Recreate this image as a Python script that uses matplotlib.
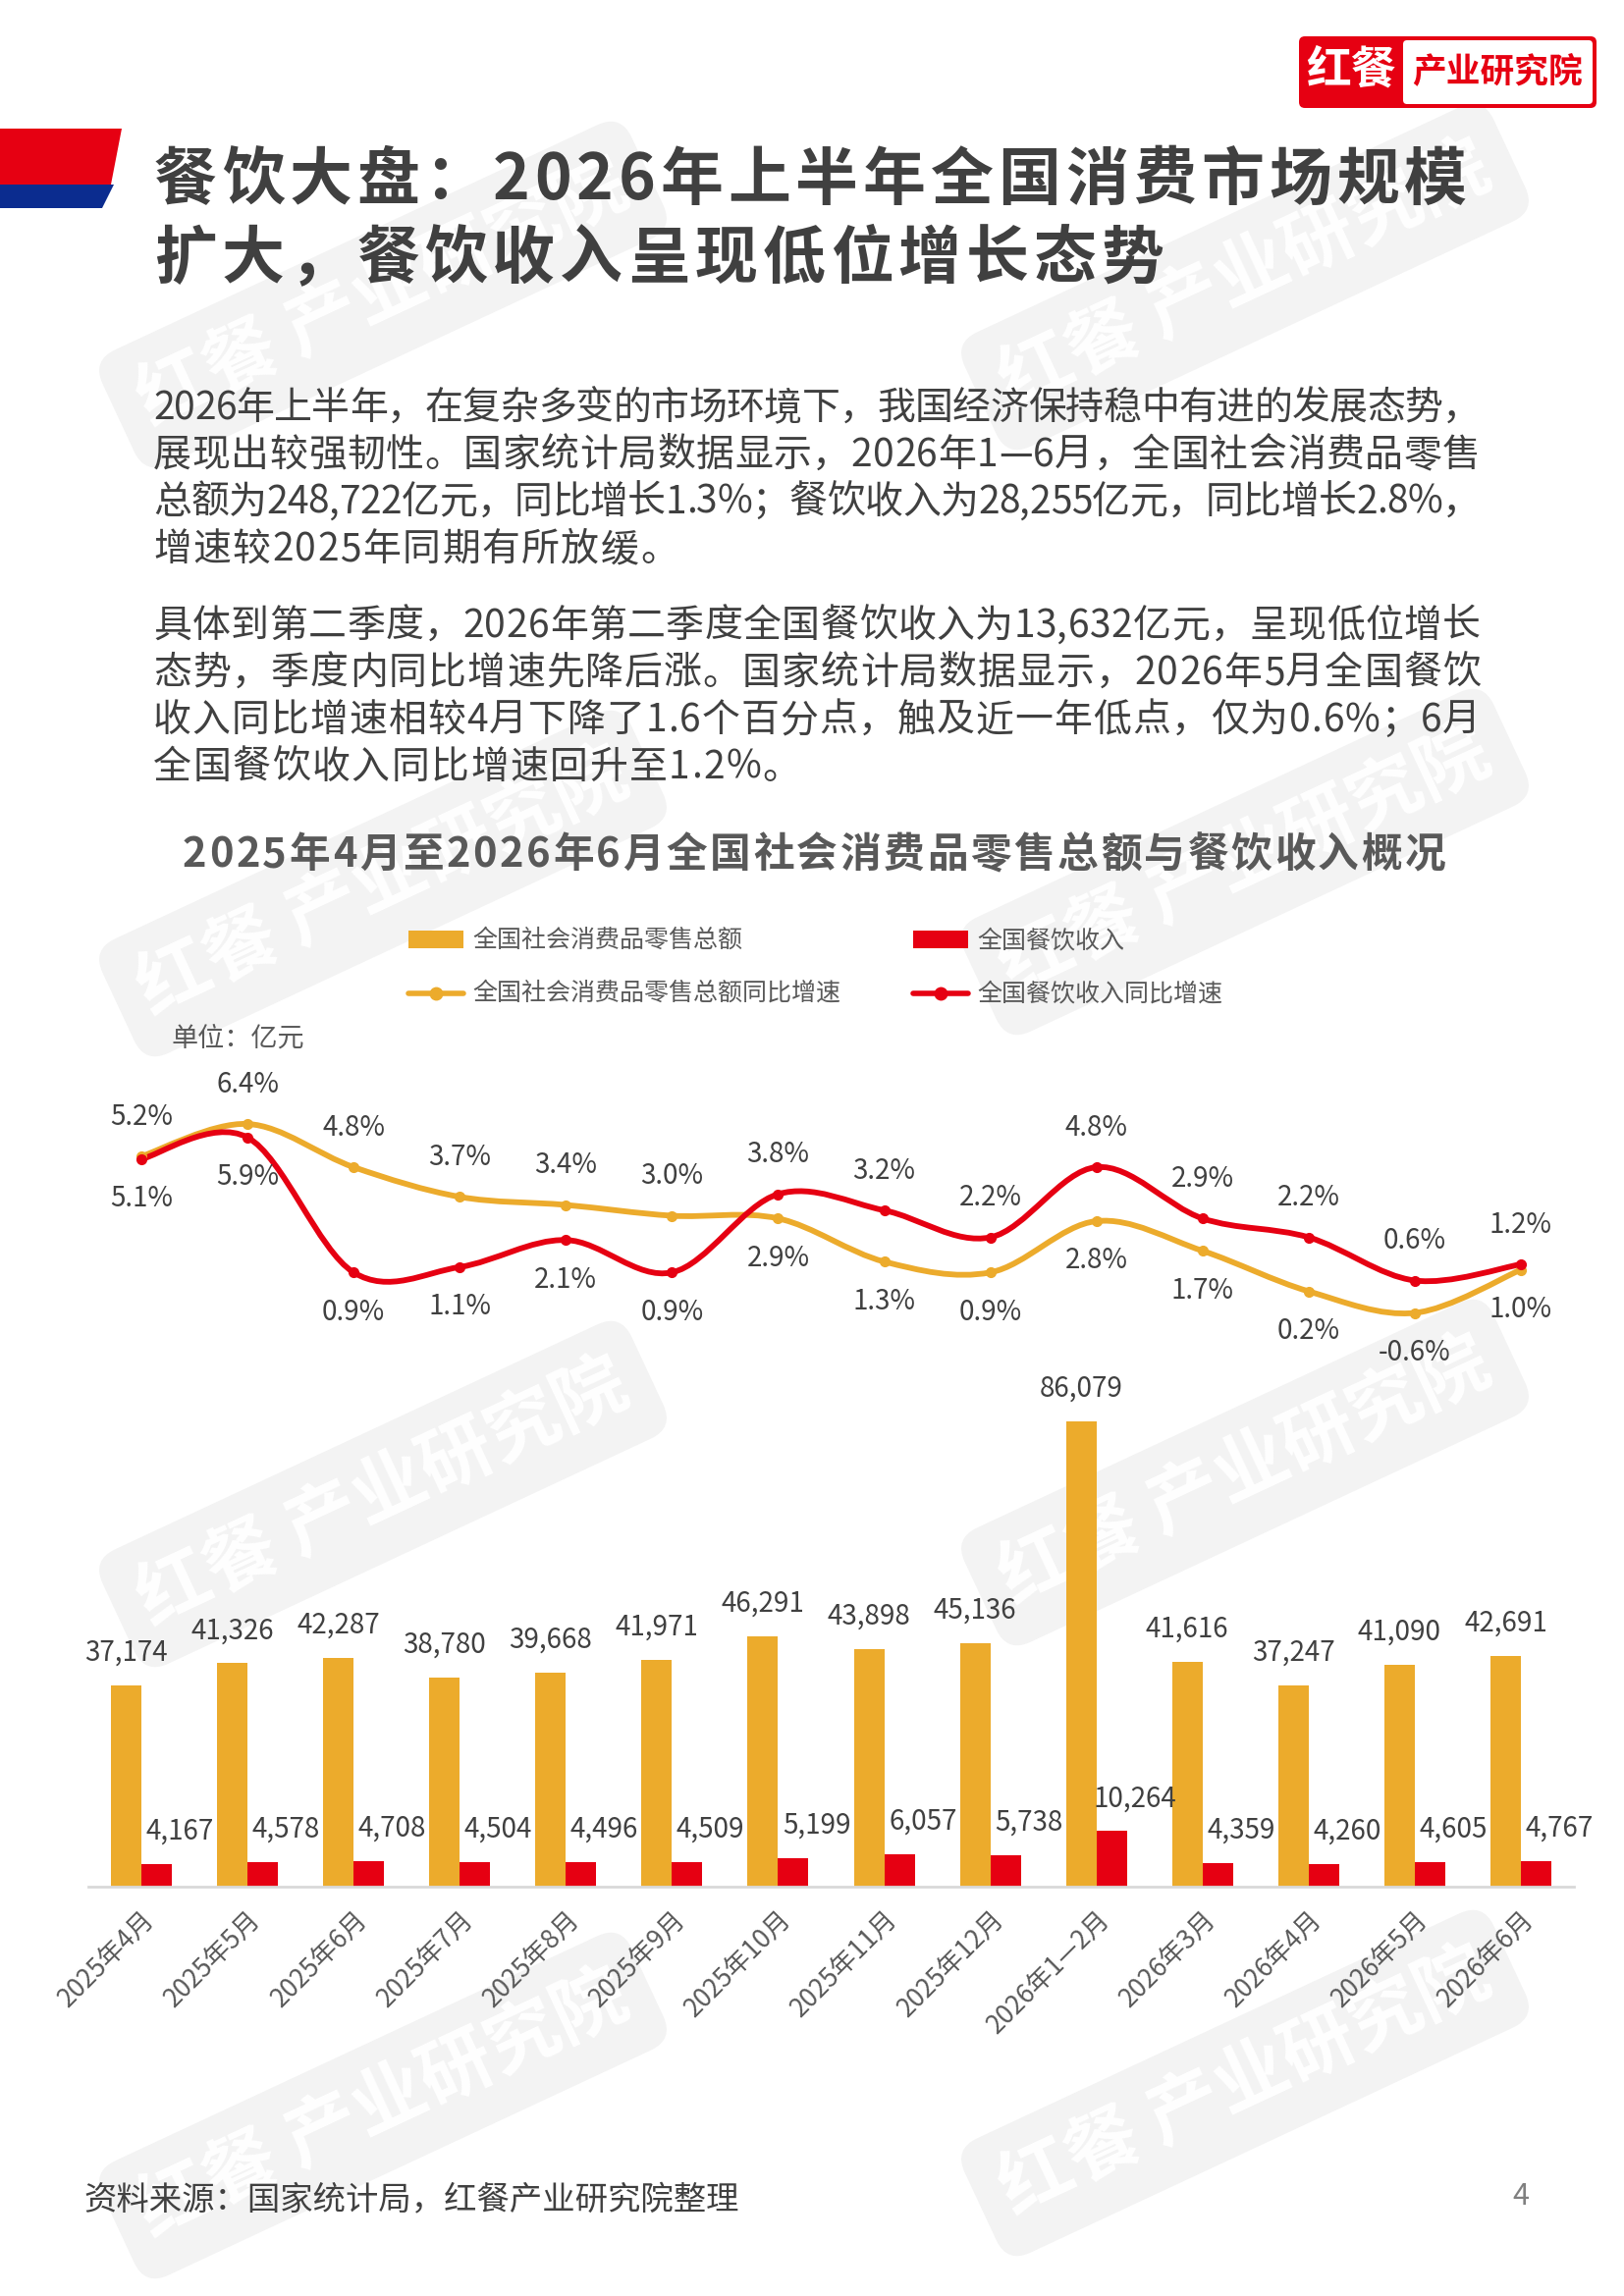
import matplotlib
matplotlib.use('Agg')
import matplotlib.pyplot as plt
from matplotlib.path import Path
from matplotlib.patches import PathPatch, Polygon, FancyBboxPatch, Rectangle
from matplotlib.lines import Line2D

plt.rcParams['font.family'] = ['Noto Sans CJK SC', 'DejaVu Sans']

# ---- data ----
months = ['2025年4月', '2025年5月', '2025年6月', '2025年7月', '2025年8月', '2025年9月',
          '2025年10月', '2025年11月', '2025年12月', '2026年1—2月', '2026年3月',
          '2026年4月', '2026年5月', '2026年6月']
retail_total = [37174, 41326, 42287, 38780, 39668, 41971, 46291, 43898, 45136,
                86079, 41616, 37247, 41090, 42691]
catering = [4167, 4578, 4708, 4504, 4496, 4509, 5199, 6057, 5738,
            10264, 4359, 4260, 4605, 4767]
retail_yoy = [5.2, 6.4, 4.8, 3.7, 3.4, 3.0, 2.9, 1.3, 0.9, 2.8, 1.7, 0.2, -0.6, 1.0]
catering_yoy = [5.1, 5.9, 0.9, 1.1, 2.1, 0.9, 3.8, 3.2, 2.2, 4.8, 2.9, 2.2, 0.6, 1.2]

title_lines = ['餐饮大盘：2026年上半年全国消费市场规模', '扩大，餐饮收入呈现低位增长态势']
para1 = ['2026年上半年，在复杂多变的市场环境下，我国经济保持稳中有进的发展态势，',
         '展现出较强韧性。国家统计局数据显示，2026年1—6月，全国社会消费品零售',
         '总额为248,722亿元，同比增长1.3%；餐饮收入为28,255亿元，同比增长2.8%，',
         '增速较2025年同期有所放缓。']
para2 = ['具体到第二季度，2026年第二季度全国餐饮收入为13,632亿元，呈现低位增长',
         '态势，季度内同比增速先降后涨。国家统计局数据显示，2026年5月全国餐饮',
         '收入同比增速相较4月下降了1.6个百分点，触及近一年低点，仅为0.6%；6月',
         '全国餐饮收入同比增速回升至1.2%。']
chart_title = '2025年4月至2026年6月全国社会消费品零售总额与餐饮收入概况'
legend_names = ['全国社会消费品零售总额', '全国餐饮收入',
                '全国社会消费品零售总额同比增速', '全国餐饮收入同比增速']

ORANGE = '#ECAB2C'
RED = '#E60012'
DARK = '#404040'
GRAY = '#595959'

W, H = 1654, 2339
fig = plt.figure(figsize=(W / 100, H / 100), dpi=100)
renderer = fig.canvas.get_renderer()


def fx(x):
    return x / W


def fy(y):
    return 1 - y / H


def spaced(x, y, s, size, color, weight='normal', gap=0.0, width=None, ha='left'):
    # draw a line char by char, so letter spacing / justification can be set
    ts = [fig.text(0, 0, c, fontsize=size, color=color, fontweight=weight,
                   ha='left', va='center') for c in s]
    ws = [t.get_window_extent(renderer).width for t in ts]
    if width is not None:
        gap = (width - sum(ws)) / (len(s) - 1)
    total = sum(ws) + gap * (len(s) - 1)
    if ha == 'center':
        x -= total / 2
    for t, w in zip(ts, ws):
        t.set_position((fx(x), fy(y)))
        x += w + gap


# ---- watermarks (behind everything) ----
for wx, wy in [(390, 300), (1268, 282), (390, 900), (1268, 878),
               (390, 1522), (1268, 1500), (390, 2145), (1268, 2122)]:
    fig.text(fx(wx), fy(wy), '红餐 产业研究院', rotation=25, fontsize=54, color='white',
             fontweight='bold', ha='center', va='center', zorder=-5,
             bbox=dict(boxstyle='round,pad=0.35', fc='#F3F3F3', ec='none'))

# ---- header ----
fig.add_artist(Polygon([(0, H - 131), (124, H - 131), (113, H - 188), (0, H - 188)],
                       closed=True, fc=RED, ec='none', transform=None))
fig.add_artist(Polygon([(0, H - 188), (116, H - 188), (104, H - 212), (0, H - 212)],
                       closed=True, fc='#0B2C8F', ec='none', transform=None))
fig.add_artist(FancyBboxPatch((1323, H - 110), 303, 73, boxstyle='round,pad=0,rounding_size=6',
                              fc=RED, ec='none', transform=None))
fig.add_artist(FancyBboxPatch((1429, H - 106), 193, 65, boxstyle='round,pad=0,rounding_size=4',
                              fc='white', ec='none', transform=None))
fig.text(fx(1376), fy(72), '红餐', fontsize=33, color='white', fontweight='bold',
         ha='center', va='center')
fig.text(fx(1525), fy(73), '产业研究院', fontsize=25, color=RED, fontweight='bold',
         ha='center', va='center')

spaced(157, 184, title_lines[0], 46, DARK, weight='bold', gap=5)
spaced(157, 264, title_lines[1], 46, DARK, weight='bold', gap=5)

for i, line in enumerate(para1):
    last = i == len(para1) - 1
    spaced(156, 416 + i * 48, line, 28, DARK, gap=1.5, width=None if last else 1352)
for i, line in enumerate(para2):
    last = i == len(para2) - 1
    spaced(156, 638 + i * 48, line, 28, DARK, gap=1.5, width=None if last else 1352)

spaced(829, 871, chart_title, 30, GRAY, weight='bold', gap=2.6, ha='center')

# ---- legend ----
fig.add_artist(Rectangle((416, H - 966), 56, 18, fc=ORANGE, ec='none', transform=None))
fig.add_artist(Rectangle((930, H - 966), 56, 18, fc=RED, ec='none', transform=None))
for lx, c in [(416, ORANGE), (930, RED)]:
    fig.add_artist(Line2D([lx, lx + 56], [H - 1012, H - 1012], color=c, lw=4,
                          solid_capstyle='round', transform=None))
    fig.add_artist(Line2D([lx + 28], [H - 1012], color=c, marker='o', ms=9, transform=None))
fig.text(fx(481), fy(958), legend_names[0], fontsize=18, color=GRAY, va='center')
fig.text(fx(995), fy(958), legend_names[1], fontsize=18, color=GRAY, va='center')
fig.text(fx(481), fy(1012), legend_names[2], fontsize=18, color=GRAY, va='center')
fig.text(fx(995), fy(1012), legend_names[3], fontsize=18, color=GRAY, va='center')
fig.text(fx(175), fy(1058), '单位：亿元', fontsize=19.5, color=GRAY, va='center')

# ---- axes ----
left, right = 90, 1603
x = list(range(len(months)))

ax_bar = fig.add_axes([fx(left), fy(1922), (right - left) / W, 523 / H], facecolor='none')
bw = 0.287
xo = [i - bw / 2 for i in x]
xr = [i + bw / 2 for i in x]
ax_bar.bar(xo, retail_total, width=bw, color=ORANGE, zorder=2)
ax_bar.bar(xr, catering, width=bw, color=RED, zorder=2)
for i in x:
    ax_bar.annotate(f'{retail_total[i]:,}', (xo[i], retail_total[i]), xytext=(0, 24),
                    textcoords='offset points', ha='center', va='center',
                    fontsize=20, color=DARK)
    ax_bar.annotate(f'{catering[i]:,}', (xr[i] + 0.22, catering[i]), xytext=(0, 24),
                    textcoords='offset points', ha='center', va='center',
                    fontsize=20, color=DARK)
ax_bar.set_xlim(-0.5, 13.5)
ax_bar.set_ylim(0, 95000)
ax_bar.set_xticks(x)
ax_bar.set_xticklabels(months, rotation=45, ha='right', rotation_mode='anchor',
                       fontsize=19, color=GRAY)
ax_bar.tick_params(axis='x', length=0, pad=14)
ax_bar.set_yticks([])
for s in ['left', 'right', 'top']:
    ax_bar.spines[s].set_visible(False)
ax_bar.spines['bottom'].set_color('#D9D9D9')
ax_bar.spines['bottom'].set_linewidth(2)

ax_line = fig.add_axes([fx(left), fy(1376), (right - left) / W, 275 / H], facecolor='none')
ax_line.set_xlim(-0.5, 13.5)
ax_line.set_ylim(-2, 8)
ax_line.axis('off')


def smooth_path(xs, ys):
    # catmull-rom spline through the data points, as cubic bezier segments
    pts = list(zip(xs, ys))
    verts = [pts[0]]
    codes = [Path.MOVETO]
    n = len(pts)
    for i in range(n - 1):
        p0 = pts[i - 1] if i > 0 else pts[i]
        p1, p2 = pts[i], pts[i + 1]
        p3 = pts[i + 2] if i + 2 < n else pts[i + 1]
        c1 = (p1[0] + (p2[0] - p0[0]) / 6, p1[1] + (p2[1] - p0[1]) / 6)
        c2 = (p2[0] - (p3[0] - p1[0]) / 6, p2[1] - (p3[1] - p1[1]) / 6)
        verts += [c1, c2, p2]
        codes += [Path.CURVE4] * 3
    return Path(verts, codes)


for ys, c in [(retail_yoy, ORANGE), (catering_yoy, RED)]:
    ax_line.add_patch(PathPatch(smooth_path(x, ys), fill=False, ec=c, lw=4.2,
                                capstyle='round', joinstyle='round'))
    ax_line.plot(x, ys, 'o', color=c, ms=7)

for i in x:
    o, r = retail_yoy[i], catering_yoy[i]
    up_o = o >= r
    ax_line.annotate(f'{o:.1f}%', (i, o), xytext=(0, 29 if up_o else -29),
                     textcoords='offset points', ha='center', va='center',
                     fontsize=20, color=DARK)
    ax_line.annotate(f'{r:.1f}%', (i, r), xytext=(0, -29 if up_o else 29),
                     textcoords='offset points', ha='center', va='center',
                     fontsize=20, color=DARK)

# ---- footer ----
fig.text(fx(85), fy(2242), '资料来源：国家统计局，红餐产业研究院整理', fontsize=24,
         color=DARK, va='center')
fig.text(fx(1549), fy(2238), '4', fontsize=22, color='#808080', ha='center', va='center')

fig.savefig('out.png', dpi=100)
